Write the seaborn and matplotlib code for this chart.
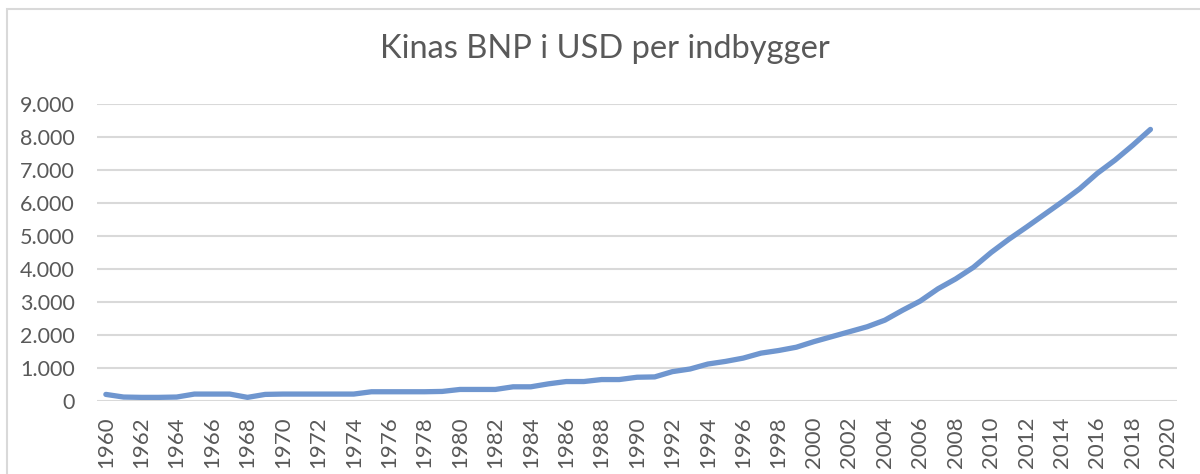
import numpy as np
import pandas as pd
import matplotlib
matplotlib.use("Agg")
import matplotlib.pyplot as plt
import seaborn as sns
from matplotlib.patches import Rectangle
from matplotlib.ticker import FuncFormatter

# Data
years = list(range(1960, 2020))
bnp = [200, 120, 110, 110, 120, 210, 210, 210, 110, 200,
       210, 210, 210, 210, 210, 280, 280, 280, 280, 290,
       350, 350, 350, 430, 430, 520, 590, 590, 650, 650,
       720, 730, 890, 970, 1120, 1200, 1300, 1450, 1530, 1630,
       1800, 1950, 2100, 2250, 2450, 2750, 3030, 3400, 3700, 4050,
       4500, 4900, 5270, 5650, 6030, 6430, 6900, 7300, 7750, 8230]
y_ticks = [0, 1000, 2000, 3000, 4000, 5000, 6000, 7000, 8000, 9000]
x_ticks = list(range(1960, 2021, 2))
title = "Kinas BNP i USD per indbygger"

df = pd.DataFrame({"Aar": years, "BNP": bnp})

sns.set_theme(style="white")
plt.rcParams['font.family'] = ['Lato', 'DejaVu Sans']

txt_color = '#595959'
grid_color = '#D9D9D9'

fig = plt.figure(figsize=(12, 4.74), dpi=100)
ax = fig.add_axes([97/1200, 1 - 401/474, (1177 - 97)/1200, (401 - 104)/474])

sns.lineplot(data=df, x="Aar", y="BNP", ax=ax, color='#6F96CF', linewidth=3.8,
             solid_capstyle='round', solid_joinstyle='round', zorder=3)

ax.set_xlim(1959.5, 2020.5)
ax.set_ylim(0, 9000)
ax.set_yticks(y_ticks)
ax.set_xticks(x_ticks)
ax.yaxis.set_major_formatter(FuncFormatter(lambda v, p: f"{int(v):,}".replace(",", ".")))
ax.set_xticklabels([str(y) for y in x_ticks], rotation=90)

ax.grid(axis='y', color=grid_color, linewidth=1.5)
ax.grid(axis='x', visible=False)
for s in ax.spines.values():
    s.set_visible(False)
ax.tick_params(axis='y', length=0, pad=16, labelsize=15.5, labelcolor=txt_color)
ax.tick_params(axis='x', length=0, pad=11, labelsize=16, labelcolor=txt_color)
ax.set_xlabel("")
ax.set_ylabel("")

fig.text(0.504, 1 - 58/474, title, ha='center', va='baseline', fontsize=23.5, color=txt_color)

# chart area border (Excel style, cropped on right and bottom)
fig.add_artist(Rectangle((7/1200, -0.1), 1.2, 1 - 9/474 + 0.1, transform=fig.transFigure,
                         fill=False, edgecolor=grid_color, linewidth=1.5))

plt.savefig('out.png', dpi=100)
